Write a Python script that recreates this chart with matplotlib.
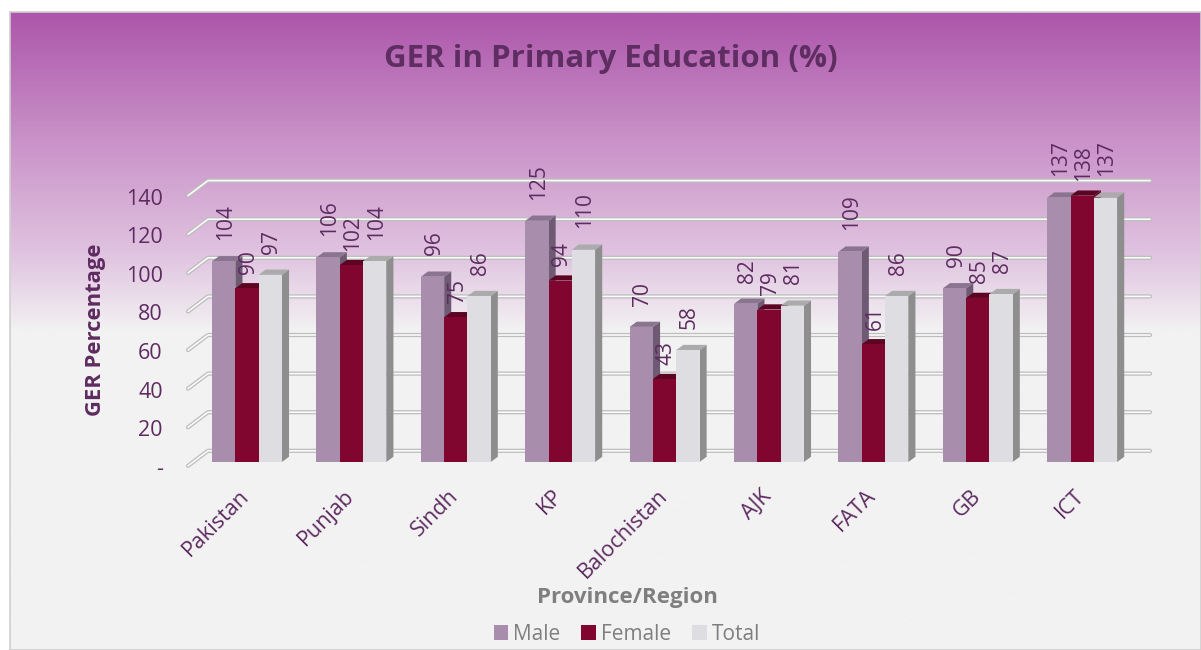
import matplotlib.pyplot as plt
import matplotlib.patches as patches
import matplotlib.transforms as mtransforms
from matplotlib.colors import LinearSegmentedColormap
import numpy as np

plt.rcParams['font.family'] = ['Open Sans', 'DejaVu Sans']

# data
regions = ['Pakistan', 'Punjab', 'Sindh', 'KP', 'Balochistan', 'AJK', 'FATA', 'GB', 'ICT']
male = [104, 106, 96, 125, 70, 82, 109, 90, 137]
female = [90, 102, 75, 94, 43, 79, 61, 85, 138]
total = [97, 104, 86, 110, 58, 81, 86, 87, 137]
series_names = ['Male', 'Female', 'Total']
yticks = [0, 20, 40, 60, 80, 100, 120, 140]
ytick_labels = ['-', '20', '40', '60', '80', '100', '120', '140']

front_col = ['#A98DAD', '#800630', '#DEDDE1']
top_col = ['#8A7490', '#5C0422', '#ABABAB']
side_col = ['#6F5A74', '#5A0322', '#8E8E8E']
label_gap = [11, 7.5, 11]
purple_txt = '#5E2B61'

W, H = 1201, 650
fig = plt.figure(figsize=(W / 100, H / 100), dpi=100)
fig.patch.set_facecolor('white')

# chart area with vertical gradient
bg = fig.add_axes([10 / W, 0, (W - 10) / W, (H - 12) / H])
bg.set_zorder(-5)
cmap = LinearSegmentedColormap.from_list(
    'bg', [(0, '#AD56AB'), (0.22, '#CC98CB'), (0.38, '#E0C4E0'), (0.5, '#F2F2F2'), (1, '#F2F2F2')])
grad = np.linspace(0, 1, 400).reshape(-1, 1)
bg.imshow(grad, aspect='auto', cmap=cmap, extent=[0, 1, 0, 1], origin='upper')
bg.set_xlim(0, 1)
bg.set_ylim(0, 1)
bg.set_xticks([])
bg.set_yticks([])
for s in bg.spines.values():
    s.set_color('#D0D0D0')
    s.set_linewidth(1.2)

# main axes: 1 x-unit = 104.4 px, 1 y-unit = 1.93 px
x_lo, x_hi = -0.7, 9.0
y_lo, y_hi = -10, 150
px_x, px_y = 104.4, 1.93
left_px = 247 + x_lo * px_x
bottom_px = 462 - y_lo * px_y
ax = fig.add_axes([left_px / W, (H - bottom_px) / H,
                   (x_hi - x_lo) * px_x / W, (y_hi - y_lo) * px_y / H])
ax.set_xlim(x_lo, x_hi)
ax.set_ylim(y_lo, y_hi)
ax.patch.set_alpha(0)
for s in ax.spines.values():
    s.set_visible(False)

# 3d-ish gridlines
gx_front, gx_back, gx_end = -0.565, -0.374, 8.65
for v in yticks:
    xs = [gx_front, gx_back, gx_end]
    ys = [v - 2, v + 5.8, v + 5.8]
    ax.plot(xs, ys, color='#BDBDBD', lw=3.0, zorder=1, clip_on=False, solid_capstyle='round')
    ax.plot(xs, ys, color='#FAFAFA', lw=1.2, zorder=1.1, clip_on=False, solid_capstyle='round')

bw = 0.223
ddx, ddy = 0.068, 2.7
x = np.arange(len(regions))
data = [male, female, total]
for j, vals in enumerate(data):
    xs = x + (j - 1) * bw
    for i, (xc, v) in enumerate(zip(xs, vals)):
        z = 2 + j * 0.1
        l, r = xc - bw / 2, xc + bw / 2
        side = patches.Polygon([(r, 0), (r + ddx, ddy), (r + ddx, v + ddy), (r, v)],
                               closed=True, facecolor=side_col[j], edgecolor='none', zorder=z)
        top = patches.Polygon([(l, v), (l + ddx, v + ddy), (r + ddx, v + ddy), (r, v)],
                              closed=True, facecolor=top_col[j], edgecolor='none', zorder=z)
        ax.add_patch(side)
        ax.add_patch(top)
    ax.bar(xs, vals, width=bw, color=front_col[j], zorder=2 + j * 0.1 + 0.05, linewidth=0)
    for xc, v in zip(xs, vals):
        ax.text(xc + 0.015, v + label_gap[j], str(v), rotation=90, ha='center', va='bottom',
                fontsize=15, color=purple_txt, zorder=6, clip_on=False)

# axis ticks
ax.set_yticks([v - 2.5 for v in yticks])
ax.set_yticklabels(ytick_labels, fontsize=15.5, color=purple_txt)
ax.tick_params(axis='y', length=0, pad=8)
ax.set_xticks(x)
ax.set_xticklabels(regions, rotation=45, ha='right', va='top', rotation_mode='anchor',
                   fontsize=15.5, color=purple_txt)
ax.tick_params(axis='x', length=0, pad=3)
shift = mtransforms.ScaledTranslation(-8 / 100, 0, fig.dpi_scale_trans)
for lab in ax.get_xticklabels():
    lab.set_transform(lab.get_transform() + shift)

# titles
fig.text(611 / W, 1 - 59 / H, 'GER in Primary Education (%)', ha='center', va='center',
         fontsize=22.5, fontweight='bold', color='#5E2D61')
fig.text(95 / W, 1 - 330 / H, 'GER Percentage', rotation=90, ha='center', va='center',
         fontsize=15.8, fontweight='bold', color=purple_txt)
fig.text(627 / W, 1 - 598 / H, 'Province/Region', ha='center', va='center',
         fontsize=16, fontweight='bold', color='#7F7F7F')

handles = [patches.Patch(facecolor=c, edgecolor='none', label=n) for c, n in zip(front_col, series_names)]
leg = fig.legend(handles=handles, loc='center', bbox_to_anchor=(627 / W, 1 - 634 / H), ncol=3,
                 frameon=False, fontsize=15, handlelength=0.7, handleheight=0.7,
                 handletextpad=0.25, columnspacing=1.0)
for t in leg.get_texts():
    t.set_color('#7F7F7F')

fig.savefig('out.png', dpi=100)
